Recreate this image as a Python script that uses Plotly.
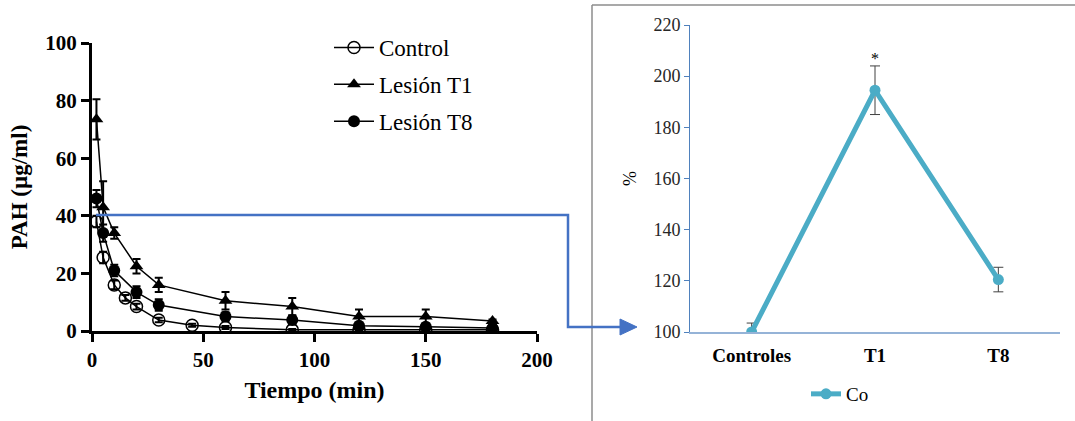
import plotly.graph_objects as go

# ---------------- data ----------------
t_control = [2, 5, 10, 15, 20, 30, 45, 60, 90, 120, 150, 180]
control = [38, 25.5, 16, 11.5, 8.5, 3.8, 2, 1.2, 0.4, 0.4, 0.4, 0.4]
control_err = [2, 2, 1.5, 1, 1, 0.8, 0.5, 0.5, 0.3, 0.3, 0.3, 0.3]

t_lesion = [2, 5, 10, 20, 30, 60, 90, 120, 150, 180]
lesion_t1 = [73.5, 43, 34, 22.5, 16, 10.5, 8.5, 5, 5, 3.5]
lesion_t1_err = [7, 9, 2, 2.5, 2.5, 3, 3, 2.5, 2.5, 0.5]
lesion_t8 = [46, 34, 21, 13.5, 9, 5, 3.8, 1.8, 1.5, 1]
lesion_t8_err = [3, 3, 2, 2, 2, 1.5, 1.5, 1, 1, 0.5]

groups = ["Controles", "T1", "T8"]
co_pct = [100, 194.5, 120.5]
co_err = [3.5, 9.5, 4.8]

W, H = 1075, 421
def px(x):
    return x / W
def py(y):
    return 1 - y / H

serif = "Liberation Serif"

fig = go.Figure()

err_style = dict(type="data", visible=True, thickness=2, width=4, color="black")

fig.add_trace(go.Scatter(
    x=t_control, y=control, name="Control", mode="lines+markers",
    line=dict(color="black", width=1.5),
    marker=dict(symbol="circle-open", size=12, color="black", line=dict(width=1.5)),
    error_y=dict(array=control_err, **err_style),
    xaxis="x", yaxis="y", legend="legend", legendgroup="a"))
fig.add_trace(go.Scatter(
    x=t_lesion, y=lesion_t1, name="Lesión T1", mode="lines+markers",
    line=dict(color="black", width=1.5),
    marker=dict(symbol="triangle-up", size=12, color="black"),
    error_y=dict(array=lesion_t1_err, **err_style),
    xaxis="x", yaxis="y", legend="legend", legendgroup="b"))
fig.add_trace(go.Scatter(
    x=t_lesion, y=lesion_t8, name="Lesión T8", mode="lines+markers",
    line=dict(color="black", width=1.5),
    marker=dict(symbol="circle", size=12, color="black"),
    error_y=dict(array=lesion_t8_err, **err_style),
    xaxis="x", yaxis="y", legend="legend", legendgroup="c"))

fig.add_trace(go.Scatter(
    x=groups, y=co_pct, name="Co", mode="lines+markers",
    line=dict(color="#4BACC6", width=5),
    marker=dict(symbol="circle", size=11, color="#4BACC6"),
    error_y=dict(type="data", array=co_err, visible=True, thickness=1, width=5, color="#404040"),
    xaxis="x2", yaxis="y2", legend="legend2"))

fig.update_layout(
    width=W, height=H,
    margin=dict(l=0, r=0, t=0, b=0, autoexpand=False),
    paper_bgcolor="white", plot_bgcolor="white",
    font=dict(family=serif, color="black"),
    showlegend=True,
    xaxis=dict(domain=[px(92), px(537)], range=[0, 200], tickvals=[0, 50, 100, 150, 200],
               showline=True, linecolor="black", linewidth=3, ticks="outside",
               ticklen=8, tickwidth=3, tickcolor="black", showgrid=False, zeroline=False,
               tickfont=dict(family=serif, size=21, color="black", weight="bold"),
               title=dict(text="Tiempo (min)", font=dict(family=serif, size=24, color="black", weight="bold"),
                          standoff=10),
               automargin=False, anchor="y"),
    yaxis=dict(domain=[py(331), py(43)], range=[0, 100], tickvals=[0, 20, 40, 60, 80, 100],
               showline=True, linecolor="black", linewidth=3, ticks="outside",
               ticklen=8, tickwidth=3, tickcolor="black", showgrid=False, zeroline=False,
               tickfont=dict(family=serif, size=21, color="black", weight="bold"),
               title=dict(text="PAH (µg/ml)", font=dict(family=serif, size=23, color="black", weight="bold"),
                          standoff=12),
               automargin=False, anchor="x"),
    xaxis2=dict(domain=[px(690), px(1060)], type="category", range=[-0.5, 2.5],
                showline=True, linecolor="#95B3D7", linewidth=1.5, ticks="", showgrid=False,
                tickfont=dict(family=serif, size=19, color="black", weight="bold"),
                ticklabelstandoff=5,
                automargin=False, anchor="y2"),
    yaxis2=dict(domain=[py(332), py(25)], range=[100, 220], tickvals=[100, 120, 140, 160, 180, 200, 220],
                showline=True, linecolor="#4F81BD", linewidth=1, ticks="outside", ticklen=5,
                tickcolor="#4F81BD", showgrid=False, zeroline=False,
                tickfont=dict(family=serif, size=18, color="#262626"),
                title=dict(text="%", font=dict(family=serif, size=18, color="black"), standoff=12),
                automargin=False, anchor="x2"),
    legend=dict(x=px(329), y=py(26), xanchor="left", yanchor="top",
                font=dict(family=serif, size=23, color="black"),
                bgcolor="rgba(0,0,0,0)", tracegroupgap=4, itemwidth=40),
    legend2=dict(x=px(840), y=py(375), xanchor="center", yanchor="top", orientation="h",
                 font=dict(family=serif, size=19, color="black"),
                 bgcolor="rgba(0,0,0,0)"),
)

# asterisk above T1
fig.add_annotation(x="T1", y=co_pct[1] + co_err[1], xref="x2", yref="y2",
                   text="*", showarrow=False, yanchor="bottom", yshift=-3,
                   font=dict(family=serif, size=16, color="black"))

# right panel frame
frame_col = "#8C8C8C"
fig.add_shape(type="line", xref="paper", yref="paper", x0=px(592), x1=px(592), y0=py(5), y1=0,
              line=dict(color=frame_col, width=1.5))
fig.add_shape(type="line", xref="paper", yref="paper", x0=px(592), x1=1, y0=py(5), y1=py(5),
              line=dict(color=frame_col, width=1.5))

# blue connector with arrow
blue = "#4472C4"
fig.add_shape(type="path", xref="paper", yref="paper",
              path=f"M {px(96)},{py(215)} L {px(568)},{py(215)} L {px(568)},{py(327)} L {px(622)},{py(327)}",
              line=dict(color=blue, width=2.5))
fig.add_shape(type="path", xref="paper", yref="paper",
              path=f"M {px(620)},{py(319)} L {px(637)},{py(327)} L {px(620)},{py(335)} Z",
              fillcolor=blue, line=dict(color=blue, width=1))

fig.write_html("out.html")
